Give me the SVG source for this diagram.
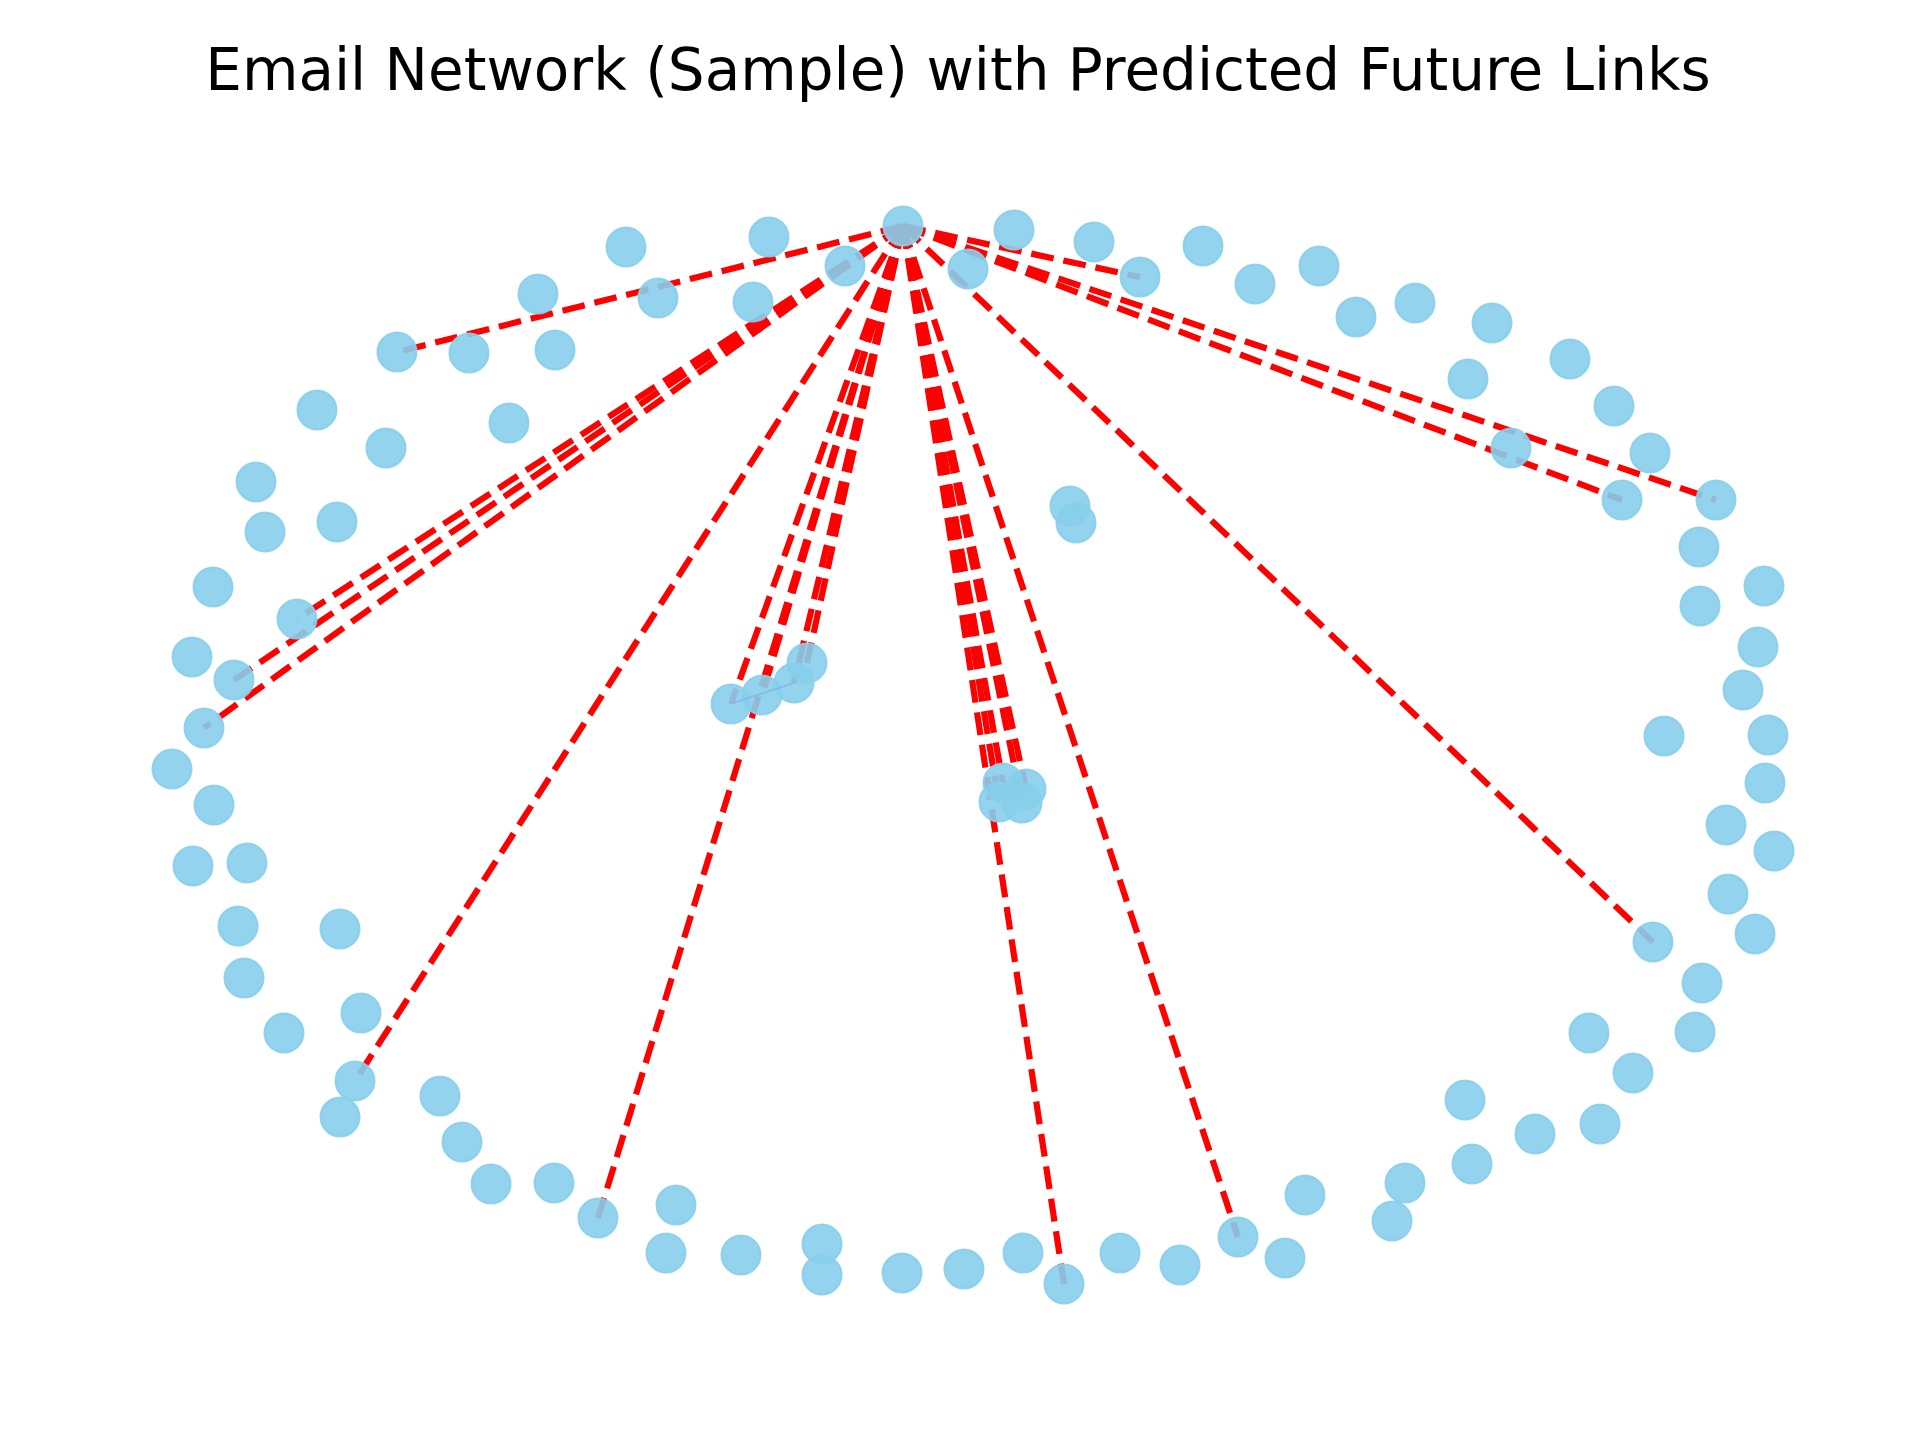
<svg xmlns="http://www.w3.org/2000/svg" width="1920" height="1440" viewBox="0 0 1920 1440">
<style>
.e{stroke:#ff0000;stroke-width:6.2;stroke-dasharray:22.9 9.9;fill:none}
.t{stroke:#7fb0e6;stroke-width:1.8;stroke-opacity:0.7;fill:none}
.n circle{fill:#87CEEB;fill-opacity:0.9;stroke:#87CEEB;stroke-opacity:0.9;stroke-width:2}
.title{font-family:"DejaVu Sans","Liberation Sans",sans-serif;font-size:58px;fill:#000}
</style>
<rect width="1920" height="1440" fill="#ffffff"/>
<text class="title" x="958" y="90" text-anchor="middle">Email Network (Sample) with Predicted Future Links</text>
<g id="connectors">
<line class="e" x1="903" y1="226" x2="397" y2="352"/>
<line class="e" x1="903" y1="226" x2="297" y2="619"/>
<line class="e" x1="903" y1="226" x2="234" y2="680"/>
<line class="e" x1="903" y1="226" x2="204" y2="728"/>
<line class="e" x1="903" y1="226" x2="355" y2="1081"/>
<line class="e" x1="903" y1="226" x2="598" y2="1218"/>
<line class="e" x1="903" y1="226" x2="731" y2="704"/>
<line class="e" x1="903" y1="226" x2="762" y2="695"/>
<line class="e" x1="903" y1="226" x2="794" y2="683"/>
<line class="e" x1="903" y1="226" x2="807" y2="663"/>
<line class="e" x1="903" y1="226" x2="1003" y2="783"/>
<line class="e" x1="903" y1="226" x2="1026" y2="789"/>
<line class="e" x1="903" y1="226" x2="999" y2="802"/>
<line class="e" x1="903" y1="226" x2="1022" y2="803"/>
<line class="e" x1="903" y1="226" x2="1064" y2="1284"/>
<line class="e" x1="903" y1="226" x2="1238" y2="1237"/>
<line class="e" x1="903" y1="226" x2="1653" y2="942"/>
<line class="e" x1="903" y1="226" x2="1140" y2="277"/>
<line class="e" x1="903" y1="226" x2="1622" y2="500"/>
<line class="e" x1="903" y1="226" x2="1716" y2="500"/>
</g>
<g id="nodes" class="n">
<g id="n0"><circle cx="903" cy="226" r="19.5"/></g>
<g id="n1"><circle cx="626" cy="247" r="19.5"/></g>
<g id="n2"><circle cx="769" cy="237" r="19.5"/></g>
<g id="n3"><circle cx="1014" cy="230" r="19.5"/></g>
<g id="n4"><circle cx="1094" cy="242" r="19.5"/></g>
<g id="n5"><circle cx="1203" cy="246" r="19.5"/></g>
<g id="n6"><circle cx="1319" cy="266" r="19.5"/></g>
<g id="n7"><circle cx="845" cy="266" r="19.5"/></g>
<g id="n8"><circle cx="968" cy="269" r="19.5"/></g>
<g id="n9"><circle cx="1140" cy="277" r="19.5"/></g>
<g id="n10"><circle cx="1255" cy="284" r="19.5"/></g>
<g id="n11"><circle cx="658" cy="298" r="19.5"/></g>
<g id="n12"><circle cx="753" cy="302" r="19.5"/></g>
<g id="n13"><circle cx="538" cy="294" r="19.5"/></g>
<g id="n14"><circle cx="1415" cy="303" r="19.5"/></g>
<g id="n15"><circle cx="1356" cy="317" r="19.5"/></g>
<g id="n16"><circle cx="1492" cy="323" r="19.5"/></g>
<g id="n17"><circle cx="397" cy="352" r="19.5"/></g>
<g id="n18"><circle cx="469" cy="353" r="19.5"/></g>
<g id="n19"><circle cx="555" cy="350" r="19.5"/></g>
<g id="n20"><circle cx="1570" cy="359" r="19.5"/></g>
<g id="n21"><circle cx="1468" cy="379" r="19.5"/></g>
<g id="n22"><circle cx="1614" cy="406" r="19.5"/></g>
<g id="n23"><circle cx="317" cy="410" r="19.5"/></g>
<g id="n24"><circle cx="509" cy="423" r="19.5"/></g>
<g id="n25"><circle cx="386" cy="448" r="19.5"/></g>
<g id="n26"><circle cx="1650" cy="453" r="19.5"/></g>
<g id="n27"><circle cx="1511" cy="448" r="19.5"/></g>
<g id="n28"><circle cx="256" cy="482" r="19.5"/></g>
<g id="n29"><circle cx="265" cy="532" r="19.5"/></g>
<g id="n30"><circle cx="337" cy="522" r="19.5"/></g>
<g id="n31"><circle cx="1622" cy="500" r="19.5"/></g>
<g id="n32"><circle cx="1716" cy="500" r="19.5"/></g>
<g id="n33"><circle cx="1070" cy="506" r="19.5"/></g>
<g id="n34"><circle cx="1076" cy="523" r="19.5"/></g>
<g id="n35"><circle cx="1699" cy="547" r="19.5"/></g>
<g id="n36"><circle cx="1764" cy="586" r="19.5"/></g>
<g id="n37"><circle cx="213" cy="587" r="19.5"/></g>
<g id="n38"><circle cx="1700" cy="606" r="19.5"/></g>
<g id="n39"><circle cx="297" cy="619" r="19.5"/></g>
<g id="n40"><circle cx="1758" cy="647" r="19.5"/></g>
<g id="n41"><circle cx="192" cy="657" r="19.5"/></g>
<g id="n42"><circle cx="234" cy="680" r="19.5"/></g>
<g id="n43"><circle cx="1743" cy="690" r="19.5"/></g>
<g id="n44"><circle cx="204" cy="728" r="19.5"/></g>
<g id="n45"><circle cx="1664" cy="736" r="19.5"/></g>
<g id="n46"><circle cx="1768" cy="735" r="19.5"/></g>
<g id="n47"><circle cx="172" cy="769" r="19.5"/></g>
<g id="n48"><circle cx="1765" cy="783" r="19.5"/></g>
<g id="n49"><circle cx="214" cy="805" r="19.5"/></g>
<g id="n50"><circle cx="1726" cy="825" r="19.5"/></g>
<g id="n51"><circle cx="1774" cy="851" r="19.5"/></g>
<g id="n52"><circle cx="193" cy="866" r="19.5"/></g>
<g id="n53"><circle cx="247" cy="863" r="19.5"/></g>
<g id="n54"><circle cx="1728" cy="894" r="19.5"/></g>
<g id="n55"><circle cx="1755" cy="934" r="19.5"/></g>
<g id="n56"><circle cx="238" cy="926" r="19.5"/></g>
<g id="n57"><circle cx="340" cy="929" r="19.5"/></g>
<g id="n58"><circle cx="1653" cy="942" r="19.5"/></g>
<g id="n59"><circle cx="244" cy="978" r="19.5"/></g>
<g id="n60"><circle cx="1702" cy="983" r="19.5"/></g>
<g id="n61"><circle cx="361" cy="1013" r="19.5"/></g>
<g id="n62"><circle cx="284" cy="1033" r="19.5"/></g>
<g id="n63"><circle cx="1589" cy="1033" r="19.5"/></g>
<g id="n64"><circle cx="1695" cy="1032" r="19.5"/></g>
<g id="n65"><circle cx="1633" cy="1073" r="19.5"/></g>
<g id="n66"><circle cx="355" cy="1081" r="19.5"/></g>
<g id="n67"><circle cx="340" cy="1117" r="19.5"/></g>
<g id="n68"><circle cx="440" cy="1096" r="19.5"/></g>
<g id="n69"><circle cx="1465" cy="1100" r="19.5"/></g>
<g id="n70"><circle cx="1600" cy="1124" r="19.5"/></g>
<g id="n71"><circle cx="462" cy="1142" r="19.5"/></g>
<g id="n72"><circle cx="1535" cy="1134" r="19.5"/></g>
<g id="n73"><circle cx="1472" cy="1164" r="19.5"/></g>
<g id="n74"><circle cx="491" cy="1184" r="19.5"/></g>
<g id="n75"><circle cx="554" cy="1183" r="19.5"/></g>
<g id="n76"><circle cx="1405" cy="1183" r="19.5"/></g>
<g id="n77"><circle cx="1305" cy="1195" r="19.5"/></g>
<g id="n78"><circle cx="676" cy="1205" r="19.5"/></g>
<g id="n79"><circle cx="598" cy="1218" r="19.5"/></g>
<g id="n80"><circle cx="1392" cy="1221" r="19.5"/></g>
<g id="n81"><circle cx="822" cy="1244" r="19.5"/></g>
<g id="n82"><circle cx="666" cy="1253" r="19.5"/></g>
<g id="n83"><circle cx="741" cy="1255" r="19.5"/></g>
<g id="n84"><circle cx="1023" cy="1253" r="19.5"/></g>
<g id="n85"><circle cx="1120" cy="1253" r="19.5"/></g>
<g id="n86"><circle cx="1180" cy="1265" r="19.5"/></g>
<g id="n87"><circle cx="1238" cy="1237" r="19.5"/></g>
<g id="n88"><circle cx="1285" cy="1258" r="19.5"/></g>
<g id="n89"><circle cx="964" cy="1269" r="19.5"/></g>
<g id="n90"><circle cx="902" cy="1273" r="19.5"/></g>
<g id="n91"><circle cx="822" cy="1275" r="19.5"/></g>
<g id="n92"><circle cx="1064" cy="1284" r="19.5"/></g>
<g id="n93"><circle cx="731" cy="704" r="19.5"/></g>
<g id="n94"><circle cx="762" cy="695" r="19.5"/></g>
<g id="n95"><circle cx="794" cy="683" r="19.5"/></g>
<g id="n96"><circle cx="807" cy="663" r="19.5"/></g>
<g id="n97"><circle cx="1003" cy="783" r="19.5"/></g>
<g id="n98"><circle cx="1026" cy="789" r="19.5"/></g>
<g id="n99"><circle cx="999" cy="802" r="19.5"/></g>
<g id="n100"><circle cx="1022" cy="803" r="19.5"/></g>
</g>
<g id="graph-edges">
<line class="t" x1="733" y1="703" x2="794" y2="683"/>
</g>
</svg>
